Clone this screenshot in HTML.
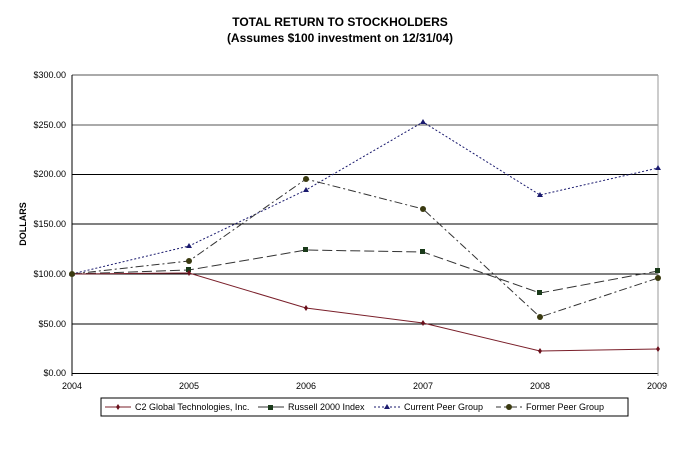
<!DOCTYPE html>
<html><head><style>body{margin:0;background:#fff}svg{display:block;font-family:"Liberation Sans",sans-serif}</style></head><body>
<svg width="681" height="466" viewBox="0 0 681 466">
<text x="340" y="26" text-anchor="middle" font-size="12" font-weight="bold">TOTAL RETURN TO STOCKHOLDERS</text>
<text x="340" y="42" text-anchor="middle" font-size="12" font-weight="bold">(Assumes $100 investment on 12/31/04)</text>
<g stroke="#000" stroke-width="1">
<line x1="72" y1="75" x2="658" y2="75" stroke="#555"/>
<line x1="72" y1="125" x2="658" y2="125" stroke="#555"/>
<line x1="72" y1="174.5" x2="658" y2="174.5"/>
<line x1="72" y1="224" x2="658" y2="224"/>
<line x1="72" y1="274" x2="658" y2="274"/>
<line x1="72" y1="324" x2="658" y2="324"/>
<line x1="72" y1="373.5" x2="658" y2="373.5"/>
<line x1="72" y1="75" x2="72" y2="376"/>
<line x1="658" y1="75" x2="658" y2="376" stroke="#999"/>
</g>
<g font-size="9" text-anchor="end" fill="#000">
<text x="66" y="78">$300.00</text><text x="66" y="128">$250.00</text><text x="66" y="177">$200.00</text><text x="66" y="227">$150.00</text><text x="66" y="277">$100.00</text><text x="66" y="327">$50.00</text><text x="66" y="376">$0.00</text>
</g>
<g font-size="9" text-anchor="middle"><text x="72" y="389">2004</text><text x="189" y="389">2005</text><text x="306" y="389">2006</text><text x="423" y="389">2007</text><text x="540" y="389">2008</text><text x="657" y="389">2009</text></g>
<text transform="translate(26,224) rotate(-90)" text-anchor="middle" font-size="9" font-weight="bold">DOLLARS</text>
<!-- series -->
<polyline fill="none" stroke="#1a1a6e" stroke-dasharray="2,2" points="72,274 189,246 306,190 423,122 540,195 658,168"/>
<polyline fill="none" stroke="#333" stroke-dasharray="8,3,2,3" points="72,274 189,261 306,179 423,209 540,317 658,278"/>
<polyline fill="none" stroke="#333" stroke-dasharray="10,4" points="72,274 189,270 306,250 423,252 540,293 658,271"/>
<polyline fill="none" stroke="#7a1f2a" points="72,274 189,273 306,308 423,323 540,351 658,349"/>
<g fill="#1a1a6e"><path d="M72,271l3,5h-6z"/><path d="M189,243l3,5h-6z"/><path d="M306,187l3,5h-6z"/><path d="M423,119l3,5h-6z"/><path d="M540,192l3,5h-6z"/><path d="M658,165l3,5h-6z"/></g>
<g fill="#3a3a10"><circle cx="72" cy="274" r="3"/><circle cx="189" cy="261" r="3"/><circle cx="306" cy="179" r="3"/><circle cx="423" cy="209" r="3"/><circle cx="540" cy="317" r="3"/><circle cx="658" cy="278" r="3"/></g>
<g fill="#1a3a1a"><rect x="186" y="267" width="5" height="5"/><rect x="303" y="247" width="5" height="5"/><rect x="420" y="249" width="5" height="5"/><rect x="537" y="290" width="5" height="5"/><rect x="655" y="268" width="5" height="5"/></g>
<g fill="#6a0f1a"><path d="M189,270l2,3l-2,3l-2,-3z"/><path d="M306,305l2,3l-2,3l-2,-3z"/><path d="M423,320l2,3l-2,3l-2,-3z"/><path d="M540,348l2,3l-2,3l-2,-3z"/><path d="M658,346l2,3l-2,3l-2,-3z"/></g>
<!-- legend -->
<rect x="101" y="398" width="527" height="18" fill="#fff" stroke="#000"/>
<g font-size="9">
<line x1="105" y1="407" x2="131" y2="407" stroke="#7a1f2a"/><path d="M118,404l2,3l-2,3l-2,-3z" fill="#6a0f1a"/>
<text x="135" y="410">C2 Global Technologies, Inc.</text>
<line x1="258" y1="407" x2="284" y2="407" stroke="#333"/><rect x="268" y="405" width="5" height="5" fill="#1a3a1a"/>
<text x="288" y="410">Russell 2000 Index</text>
<line x1="374" y1="407" x2="400" y2="407" stroke="#1a1a6e" stroke-dasharray="2,2"/><path d="M387,404l3,5h-6z" fill="#1a1a6e"/>
<text x="404" y="410">Current Peer Group</text>
<line x1="496" y1="407" x2="522" y2="407" stroke="#333" stroke-dasharray="5,3"/><circle cx="509" cy="407" r="3" fill="#3a3a10"/>
<text x="526" y="410">Former Peer Group</text>
</g>
</svg>
</body></html>
